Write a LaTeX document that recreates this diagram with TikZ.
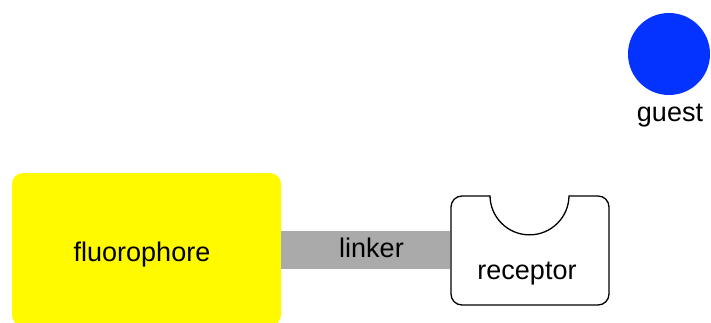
\documentclass[tikz,border=0pt]{standalone}
\usepackage{fontspec}
\setmainfont{Liberation Sans}
\usetikzlibrary{positioning}

\begin{document}
\begin{tikzpicture}[x=1pt,y=1pt,
    every node/.style={font=\fontsize{27}{32}\selectfont, inner sep=0pt, outer sep=0pt},
    partbox/.style={rectangle, rounded corners=11pt},
    wordlabel/.style={anchor=base}]
    \definecolor{myfluor}{RGB}{255,250,0}
    \definecolor{mylinker}{RGB}{170,170,170}
    \definecolor{myguest}{RGB}{4,51,255}

    \useasboundingbox (0,0) rectangle (711,322);

    \node[partbox, fill=myfluor, minimum width=269pt, minimum height=153pt]
        (fluor) at (146.5,72.5) {};
    \node[partbox, draw, line width=1.3pt, outer sep=0.65pt, fill=white, minimum width=158pt, minimum height=109pt]
        (receptor) at (530,71.5) {};

    \draw[mylinker, line width=38pt] (fluor.east |- 0,72) -- (receptor.west |- 0,72);

    \fill[white] (490,128) -- (490,126) arc[start angle=180, end angle=360, radius=39.5] -- (569,128) -- cycle;
    \draw[line width=1.3pt] (490,126.65) arc[start angle=180, end angle=360, radius=39.5];

    \node[circle, fill=myguest, minimum size=82pt] (guest) at (669,268) {};

    \node[wordlabel] (fluorlabel) at (142,61) {fluorophore};
    \node[wordlabel] (linkerlabel) at (371.5,64.3) {linker};
    \node[wordlabel] (receptorlabel) at (527,43) {receptor};
    \node[wordlabel] (guestlabel) at (670,201) {guest};
\end{tikzpicture}
\end{document}
